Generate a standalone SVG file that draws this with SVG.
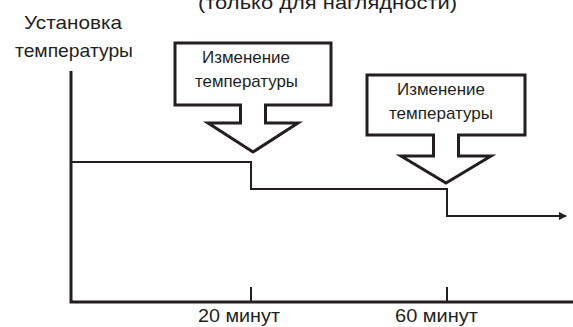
<svg xmlns="http://www.w3.org/2000/svg" width="573" height="327" viewBox="0 0 573 327">
<style>
text{font-family:"Liberation Sans Narrow","Liberation Sans",Arial,sans-serif;fill:#231f20}
.lbl{font-size:19px}
.box{font-size:17px}
.callout{fill:#fff;stroke:#231f20;stroke-width:3;stroke-linejoin:miter}
.axis{fill:none;stroke:#231f20;stroke-width:3}
.tick{fill:none;stroke:#231f20;stroke-width:2}
.step{fill:none;stroke:#231f20;stroke-width:2}
</style>
<defs>
<marker id="arr" markerWidth="8" markerHeight="8" refX="7" refY="4" orient="auto" markerUnits="userSpaceOnUse">
<path d="M0,0 L8,4 L0,8 Z" fill="#231f20"/>
</marker>
</defs>
<rect width="573" height="327" fill="#fff"/>
<g id="title">
<text class="lbl" x="198" y="9" textLength="259" lengthAdjust="spacingAndGlyphs">(только для наглядности)</text>
</g>
<g id="y-label">
<text class="lbl" x="24" y="29" textLength="98" lengthAdjust="spacingAndGlyphs">Установка</text>
<text class="lbl" x="15" y="57" textLength="118" lengthAdjust="spacingAndGlyphs">температуры</text>
</g>
<g id="axes">
<path class="axis" d="M71,71 V302 H573"/>
<path class="tick" d="M251,287 V302 M447,287 V302"/>
</g>
<g id="x-labels">
<text class="lbl" x="198" y="322" textLength="82" lengthAdjust="spacingAndGlyphs">20 минут</text>
<text class="lbl" x="395" y="322" textLength="83" lengthAdjust="spacingAndGlyphs">60 минут</text>
</g>
<g id="connectors">
<path class="step" d="M71,162 H251 V189 H447 V216 H566" marker-end="url(#arr)"/>
</g>
<g id="change1">
<path class="callout" d="M175,43 H331 V105 H265.5 V123 H298 L253,152 L208,123 H240.5 V105 H175 Z"/>
<text class="box" x="202" y="63" textLength="88" lengthAdjust="spacingAndGlyphs">Изменение</text>
<text class="box" x="195" y="87" textLength="103" lengthAdjust="spacingAndGlyphs">температуры</text>
</g>
<g id="change2">
<path class="callout" d="M367,75 H525 V135 H458.5 V156 H491 L446,183 L401,156 H433.5 V135 H367 Z"/>
<text class="box" x="397" y="95" textLength="88" lengthAdjust="spacingAndGlyphs">Изменение</text>
<text class="box" x="389" y="119" textLength="104" lengthAdjust="spacingAndGlyphs">температуры</text>
</g>
</svg>
